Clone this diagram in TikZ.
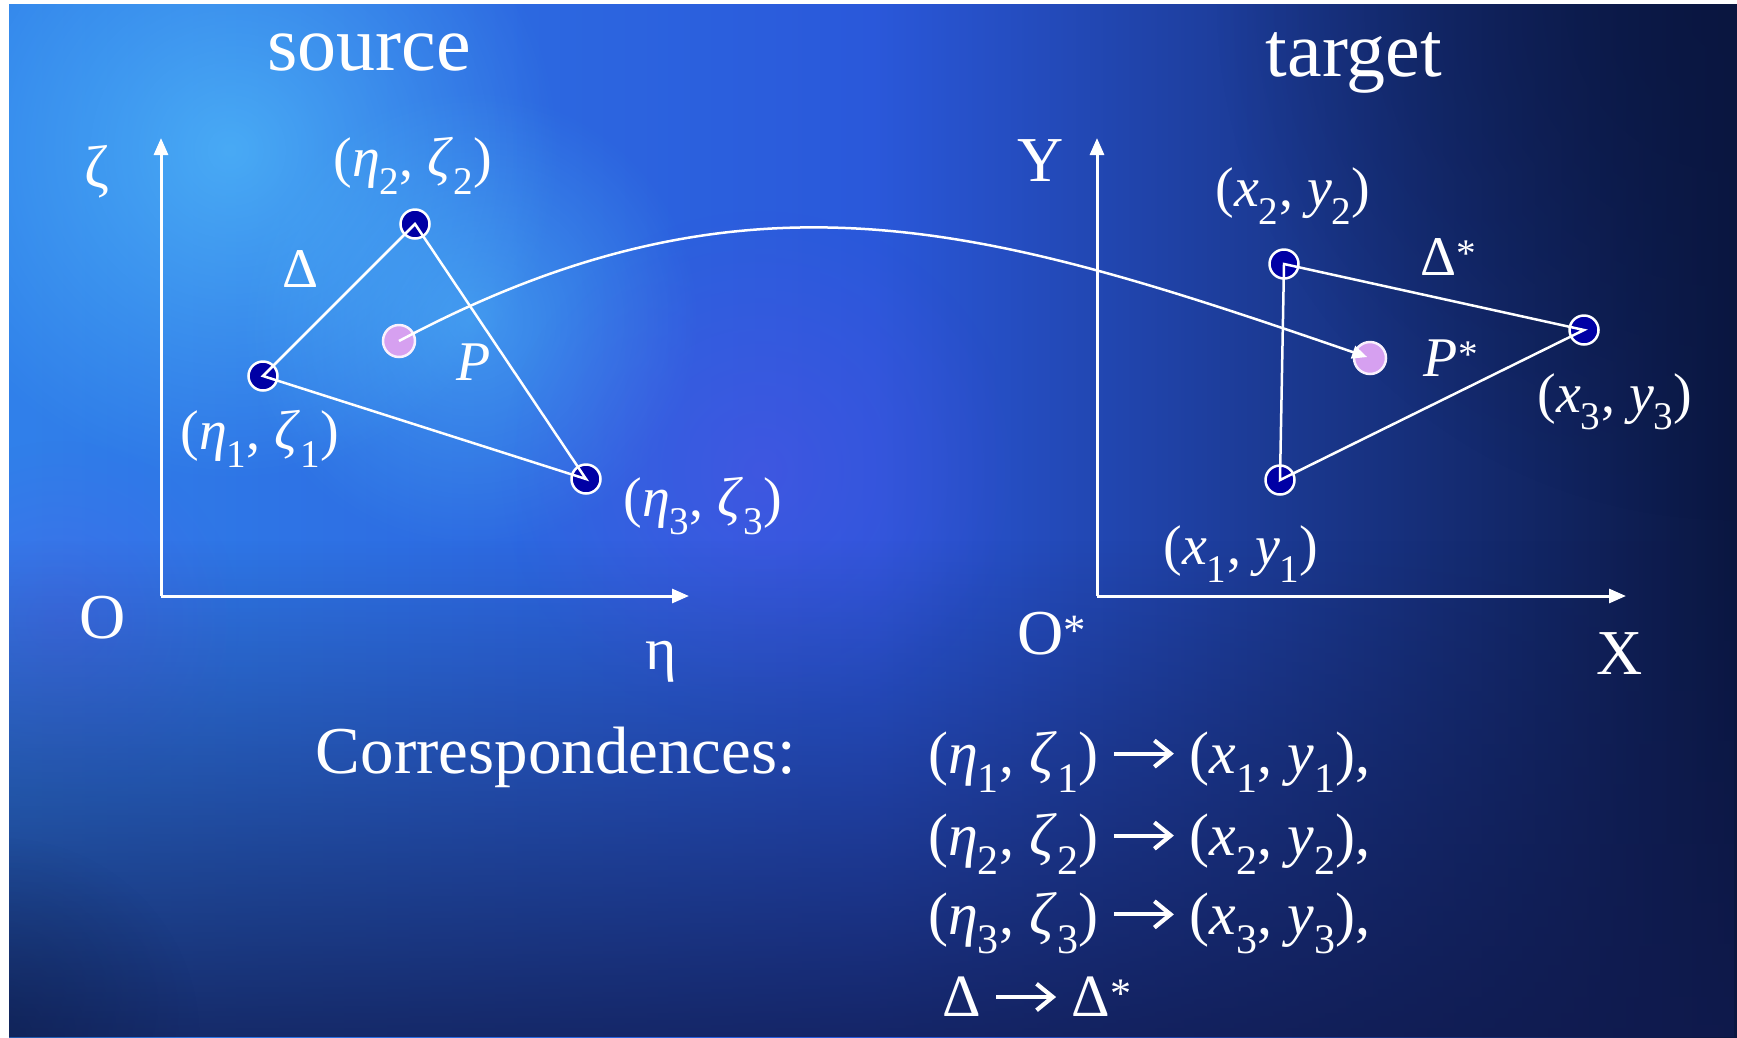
\documentclass[tikz,border=0pt]{standalone}
\usepackage{fontspec}
\setmainfont{Liberation Serif}
\usetikzlibrary{arrows.meta, fadings}

\definecolor{skyblue}{RGB}{48,128,234}
\definecolor{midblue}{RGB}{42,88,218}
\definecolor{navyright}{RGB}{10,22,64}
\definecolor{navybottom}{RGB}{16,26,78}
\definecolor{glowcyan}{RGB}{90,205,255}
\definecolor{glowviolet}{RGB}{92,78,232}
\definecolor{vtxblue}{RGB}{0,0,165}
\definecolor{plilac}{RGB}{214,160,240}

\tikzfading[name=fadedown, top color=transparent!100, bottom color=transparent!18]
\tikzfading[name=softblob, inner color=transparent!0, outer color=transparent!100]

\newcommand\maparrow{\kern0.22em\tikz[baseline={(0,-0.33em)}]\draw[white, line width=0.07em, -{Straight Barb[length=0.27em, width=0.44em, line width=0.07em]}] (0,0) -- (1.0em,0);\kern0.22em}

\begin{document}
\begin{tikzpicture}[x=1pt, y=-1pt,
  every node/.style={text=white, inner sep=0pt},
  titlelbl/.style={font=\fontsize{78}{80}\selectfont},
  axlbl/.style={font=\fontsize{64}{66}\selectfont},
  greeklbl/.style={font=\fontsize{60}{62}\selectfont},
  ptlbl/.style={font=\fontsize{56}{58}\selectfont},
  corrlbl/.style={font=\fontsize{60}{62}\selectfont},
  axis/.style={white, line width=3pt, -{Triangle[length=17pt, width=14pt]}},
  edge/.style={white, line width=2.5pt},
  vtxdot/.style={circle, fill=vtxblue, draw=white, line width=2.5pt, minimum size=29pt},
  pdot/.style={circle, fill=plilac, draw=white!85!plilac, line width=2.5pt, minimum size=32pt}]
  \useasboundingbox (0,0) rectangle (1737,1037);
  \fill[white] (0,0) rectangle (1737,1037);
  % background
  \begin{scope}
    \clip (9,4) rectangle (1737,1037);
    \shade[left color=skyblue, right color=navyright, middle color=midblue] (9,4) rectangle (1737,1037);
    \fill[glowcyan, path fading=softblob, opacity=0.6] (230,150) circle (330);
    \fill[glowcyan, path fading=softblob, opacity=0.45] (470,320) circle (230);
    \fill[glowviolet, path fading=softblob, opacity=0.4] (760,470) circle (260);
    \fill[glowviolet, path fading=softblob, opacity=0.3] (60,620) circle (180);
    \fill[navyright, path fading=softblob, opacity=0.75] (1737,0) circle (520);
    \fill[navybottom, path fading=fadedown] (9,540) rectangle (1737,1037);
    \fill[navyright, path fading=softblob, opacity=0.4] (0,1037) circle (200);
  \end{scope}
  % source frame
  \coordinate (o1) at (161,596);
  \coordinate (zetatip) at (161,138);
  \coordinate (etatip) at (689,596);
  \draw[axis] (o1) -- (zetatip);
  \draw[axis] (o1) -- (etatip);
  \node[titlelbl] (srclbl) at (369,52) {source};
  \node[greeklbl] (zetalbl) at (97,172) {ζ};
  \node[axlbl] (olbl) at (103,618) {O};
  \node[greeklbl] (etalbl) at (661,662) {η};
  % target frame
  \coordinate (o2) at (1097,596);
  \coordinate (ytip) at (1097,138);
  \coordinate (xtip) at (1626,596);
  \draw[axis] (o2) -- (ytip);
  \draw[axis] (o2) -- (xtip);
  \node[titlelbl] (tgtlbl) at (1354,63) {target};
  \node[axlbl] (ylbl) at (1041,161) {Y};
  \node[axlbl] (ostarlbl) at (1052,634) {O\textsuperscript{*}};
  \node[axlbl] (xlbl) at (1620,654) {X};
  % source triangle
  \node[vtxdot] (a1) at (263,376) {};
  \node[vtxdot] (a2) at (415,224) {};
  \node[vtxdot] (a3) at (586,479) {};
  \node[pdot] (p) at (399,341) {};
  \draw[edge] (a1.center) -- (a2.center) -- (a3.center) -- cycle;
  \node[ptlbl] (a1lbl) at (260,439) {(\textit{η}\textsubscript{1}, \textit{ζ}\textsubscript{1})};
  \node[ptlbl] (a2lbl) at (413,166) {(\textit{η}\textsubscript{2}, \textit{ζ}\textsubscript{2})};
  \node[ptlbl] (a3lbl) at (703,506) {(\textit{η}\textsubscript{3}, \textit{ζ}\textsubscript{3})};
  \node[ptlbl] (deltalbl) at (301,269) {Δ};
  \node[ptlbl] (plbl) at (474,362) {\textit{P}};
  % target triangle
  \node[vtxdot] (b1) at (1280,480) {};
  \node[vtxdot] (b2) at (1284,264) {};
  \node[vtxdot] (b3) at (1584,330) {};
  \node[pdot] (pstar) at (1370,358) {};
  \draw[edge] (b1.center) -- (b2.center) -- (b3.center) -- cycle;
  \node[ptlbl] (b1lbl) at (1241,554) {(\textit{x}\textsubscript{1}, \textit{y}\textsubscript{1})};
  \node[ptlbl] (b2lbl) at (1293,196) {(\textit{x}\textsubscript{2}, \textit{y}\textsubscript{2})};
  \node[ptlbl] (b3lbl) at (1615,402) {(\textit{x}\textsubscript{3}, \textit{y}\textsubscript{3})};
  \node[ptlbl] (dstarlbl) at (1449,257) {Δ\textsuperscript{*}};
  \node[ptlbl] (pstarlbl) at (1451,358) {\textit{P}\textsuperscript{*}};
  % mapping
  \draw[edge, -{Triangle[length=15pt, width=13pt]}, shorten >=3pt] (p.center) .. controls (752,153) and (992,228) .. (pstar.center);
  % correspondences
  \node[corrlbl, font=\fontsize{67}{70}\selectfont] (corrtitle) at (556,757) {Correspondences:};
  \node[corrlbl, anchor=west] (corr1) at (928,762) {(\textit{η}\textsubscript{1}, \textit{ζ}\textsubscript{1})\maparrow(\textit{x}\textsubscript{1}, \textit{y}\textsubscript{1}),};
  \node[corrlbl, anchor=west] (corr2) at (928,844) {(\textit{η}\textsubscript{2}, \textit{ζ}\textsubscript{2})\maparrow(\textit{x}\textsubscript{2}, \textit{y}\textsubscript{2}),};
  \node[corrlbl, anchor=west] (corr3) at (928,923) {(\textit{η}\textsubscript{3}, \textit{ζ}\textsubscript{3})\maparrow(\textit{x}\textsubscript{3}, \textit{y}\textsubscript{3}),};
  \node[corrlbl, anchor=west] (corr4) at (942,997) {Δ\maparrow Δ\textsuperscript{*}};
\end{tikzpicture}
\end{document}
